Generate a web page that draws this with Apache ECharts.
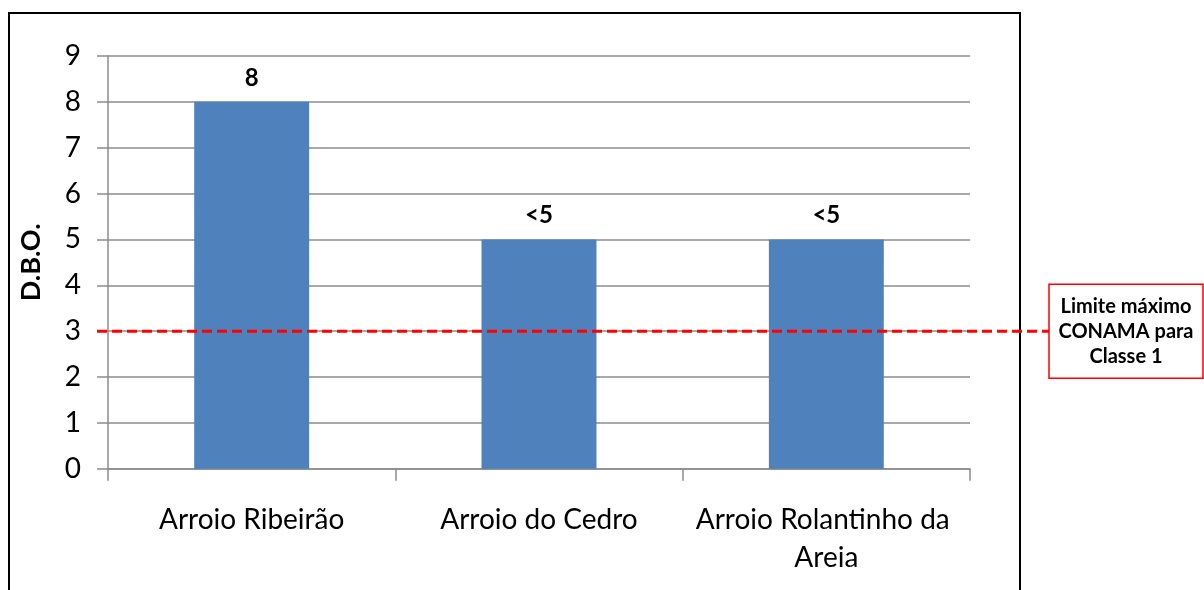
<!DOCTYPE html>
<html>
<head>
<meta charset="utf-8">
<script src="https://cdn.jsdelivr.net/npm/echarts@6/dist/echarts.min.js"></script>
<style>
  html, body { margin: 0; padding: 0; background: #fff; }
  #chart { width: 1204px; height: 590px; }
</style>
</head>
<body>
<div id="chart"></div>
<script>
// Sampling points and measured D.B.O. (mg/L)
const categories = ['Arroio Ribeirão', 'Arroio do Cedro', 'Arroio Rolantinho da Areia'];
const dboValues = [8, 5, 5];
const dboLabels = ['8', '<5', '<5'];
// CONAMA class 1 maximum
const limitValue = 3;
const limitText = ['Limite máximo', 'CONAMA para', 'Classe 1'];
const yTicks = { min: 0, max: 9, step: 1 };

const FONT = 'Lato, "Open Sans", sans-serif';
const GRID_GRAY = '#8c8c8c';

const chart = echarts.init(document.getElementById('chart'), null, { renderer: 'canvas' });

const option = {
  animation: false,
  backgroundColor: '#ffffff',
  grid: [
    { left: 108, right: 234, top: 56, bottom: 121.3, containLabel: false, outerBoundsMode: 'none' },
    // wider strip sharing the same vertical scale, used by the limit line
    { left: 97, right: 155, top: 56, bottom: 121.3, containLabel: false, outerBoundsMode: 'none' }
  ],
  xAxis: [
    {
      type: 'category',
      gridIndex: 0,
      data: categories,
      boundaryGap: true,
      axisLine: { show: true, lineStyle: { color: GRID_GRAY, width: 1.5 } },
      axisTick: { show: true, length: 12, alignWithLabel: false, lineStyle: { color: GRID_GRAY, width: 1.5 } },
      axisLabel: {
        interval: 0,
        margin: 32,
        color: '#000',
        fontFamily: FONT,
        fontSize: 28,
        lineHeight: 38,
        width: 280,
        overflow: 'break'
      },
      splitLine: { show: false }
    },
    {
      type: 'value',
      gridIndex: 1,
      min: 0,
      max: 1,
      show: false
    }
  ],
  yAxis: [
    {
      type: 'value',
      gridIndex: 0,
      min: yTicks.min,
      max: yTicks.max,
      interval: yTicks.step,
      name: 'D.B.O.',
      nameLocation: 'middle',
      nameRotate: 90,
      nameGap: 63,
      nameTextStyle: { color: '#000', fontFamily: FONT, fontSize: 27, fontWeight: 'bold' },
      axisLine: { show: true, lineStyle: { color: GRID_GRAY, width: 1.5 } },
      axisTick: { show: true, length: 11, lineStyle: { color: GRID_GRAY, width: 1.5 } },
      axisLabel: { color: '#000', fontFamily: FONT, fontSize: 28, margin: 27 },
      splitLine: { show: true, lineStyle: { color: GRID_GRAY, width: 1.5 } }
    },
    {
      type: 'value',
      gridIndex: 1,
      min: yTicks.min,
      max: yTicks.max,
      show: false
    }
  ],
  series: [
    {
      type: 'bar',
      xAxisIndex: 0,
      yAxisIndex: 0,
      data: dboValues,
      barCategoryGap: '60%',
      itemStyle: { color: '#4F81BD' },
      label: {
        show: true,
        position: 'top',
        distance: 12,
        color: '#000',
        fontFamily: FONT,
        fontSize: 24,
        fontWeight: 'bold',
        formatter: p => dboLabels[p.dataIndex]
      },
      z: 2
    },
    {
      type: 'line',
      xAxisIndex: 1,
      yAxisIndex: 1,
      data: [[0, limitValue], [1, limitValue]],
      symbol: 'none',
      lineStyle: { color: '#ff0000', width: 3, type: [10, 5] },
      z: 5,
      silent: true
    }
  ]
};

chart.setOption(option);

// Frame around the chart area and the legend box for the limit line
const limitY = chart.convertToPixel({ yAxisIndex: 1 }, limitValue);
const boxLeft = 1049, boxW = 154, boxH = 94;
chart.setOption({
  graphic: [
    {
      type: 'rect',
      z: 0,
      shape: { x: 9, y: 13, width: 1011, height: 700 },
      style: { fill: 'none', stroke: '#000', lineWidth: 2 },
      silent: true
    },
    {
      type: 'rect',
      z: 10,
      shape: { x: boxLeft, y: limitY - boxH / 2, width: boxW, height: boxH },
      style: { fill: '#fff', stroke: '#ff0000', lineWidth: 1.5 },
      silent: true
    },
    {
      type: 'text',
      z: 11,
      x: boxLeft + boxW / 2,
      y: limitY,
      style: {
        text: limitText.join('\n'),
        align: 'center',
        verticalAlign: 'middle',
        fill: '#000',
        font: 'bold 20px ' + FONT,
        lineHeight: 25
      },
      silent: true
    }
  ]
});
</script>
</body>
</html>
